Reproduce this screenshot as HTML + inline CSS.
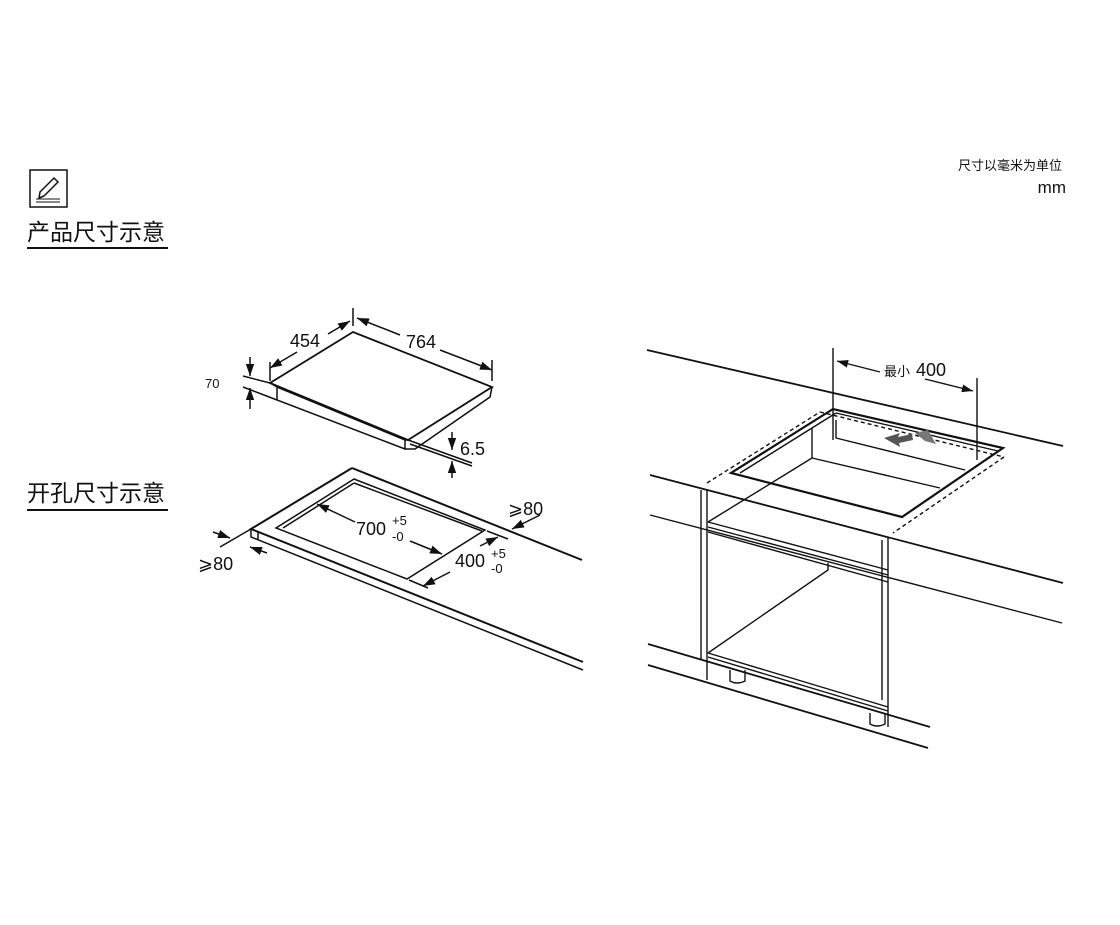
<!DOCTYPE html>
<html><head><meta charset="utf-8"><style>
body{margin:0;background:#fff;width:1120px;height:920px;overflow:hidden}
svg text{font-family:"Liberation Sans","Noto Sans CJK SC",sans-serif;fill:#111}
</style></head><body>
<svg width="1120" height="920" viewBox="0 0 1120 920" xmlns="http://www.w3.org/2000/svg">
<defs>
<marker id="a" viewBox="0 0 10 10" refX="10" refY="5" markerWidth="8" markerHeight="8" orient="auto-start-reverse"><path d="M0,1.5 L10,5 L0,8.5 Z" fill="#111"/></marker>
</defs>
<!-- icon -->
<rect x="30" y="170" width="37" height="37" fill="none" stroke="#111" stroke-width="1.5"/>
<path d="M40,192 L54,178 L58,182 L44,196 L39,198 Z" fill="none" stroke="#111" stroke-width="1.5"/>
<line x1="36" y1="199" x2="60" y2="199" stroke="#111"/><line x1="36" y1="202" x2="60" y2="202" stroke="#111"/>
<text x="27" y="240" font-size="23">产品尺寸示意</text>
<line x1="27" y1="248" x2="168" y2="248" stroke="#111" stroke-width="2"/>
<text x="27" y="501" font-size="23">开孔尺寸示意</text>
<line x1="27" y1="510" x2="168" y2="510" stroke="#111" stroke-width="2"/>
<text x="1062" y="170" font-size="13" text-anchor="end">尺寸以毫米为单位</text>
<text x="1066" y="193" font-size="17" text-anchor="end">mm</text>

<g stroke="#111" fill="none" stroke-width="1.5">
<!-- hob -->
<path d="M353,332 L270,383 L408,440 L492,387 Z" stroke-width="1.8"/>
<path d="M270,383 L277,387 L277,400 L405,449 L405,440 M405,449 L415,449 L490,397 L492,387 M277,387 L405,440 L408,440"/>
<line x1="353" y1="308" x2="353" y2="326"/><line x1="492" y1="360" x2="492" y2="381"/><line x1="270" y1="362" x2="270" y2="381"/>
<line x1="297" y1="352" x2="270" y2="368" marker-end="url(#a)"/><line x1="328" y1="334" x2="350" y2="321" marker-end="url(#a)"/>
<line x1="400" y1="335" x2="357" y2="318" marker-end="url(#a)"/><line x1="440" y1="350" x2="492" y2="370" marker-end="url(#a)"/>
<line x1="243" y1="376" x2="270" y2="383"/><line x1="243" y1="387" x2="277" y2="400"/>
<line x1="250" y1="357" x2="250" y2="376" marker-end="url(#a)"/><line x1="250" y1="409" x2="250" y2="388" marker-end="url(#a)"/>
<line x1="408" y1="440" x2="472" y2="463"/><line x1="410" y1="444" x2="472" y2="466"/>
<line x1="452" y1="432" x2="452" y2="450" marker-end="url(#a)"/><line x1="452" y1="478" x2="452" y2="461" marker-end="url(#a)"/>
<!-- countertop cutout -->
<path d="M352,468 L251,529 L583,662 M352,468 L582,560" stroke-width="2"/>
<path d="M251,529 L251,537 L583,670 M258,532 L258,540"/>
<path d="M354,479 L276,528 L407,579 L485,530 Z M354,483 L283,528 M354,483 L482,531"/>
<line x1="355" y1="522" x2="317" y2="504" marker-end="url(#a)"/><line x1="410" y1="541" x2="442" y2="554" marker-end="url(#a)"/>
<line x1="409" y1="580" x2="428" y2="588"/><line x1="487" y1="531" x2="508" y2="539"/>
<line x1="450" y1="572" x2="423" y2="586" marker-end="url(#a)"/><line x1="480" y1="546" x2="498" y2="537" marker-end="url(#a)"/>
<line x1="540" y1="515" x2="512" y2="529" marker-end="url(#a)"/>
<line x1="213" y1="532" x2="230" y2="538" marker-end="url(#a)"/><line x1="267" y1="553" x2="250" y2="547" marker-end="url(#a)"/>
<line x1="220" y1="547" x2="251" y2="529"/>
</g>
<text x="290" y="347" font-size="18">454</text>
<text x="406" y="348" font-size="18">764</text>
<text x="205" y="388" font-size="13">70</text>
<text x="460" y="455" font-size="18">6.5</text>
<text x="356" y="535" font-size="18">700</text><text x="392" y="525" font-size="13">+5</text><text x="392" y="541" font-size="13">-0</text>
<text x="455" y="567" font-size="18">400</text><text x="491" y="558" font-size="13">+5</text><text x="491" y="573" font-size="13">-0</text>
<text x="508" y="515" font-size="18">⩾80</text>
<text x="198" y="570" font-size="18">⩾80</text>

<!-- right drawing -->
<g stroke="#111" fill="none" stroke-width="1.4">
<line x1="647" y1="350" x2="1063" y2="446" stroke-width="1.8"/>
<line x1="650" y1="475" x2="1063" y2="583" stroke-width="1.8"/>
<line x1="650" y1="515" x2="1062" y2="623"/>
<line x1="648" y1="644" x2="930" y2="727" stroke-width="1.8"/>
<line x1="648" y1="665" x2="928" y2="748" stroke-width="1.8"/>
<path d="M833,409 L731,473 L902,517 L1003,448 Z" stroke-width="2.2"/>
<path d="M836,413 L740,473 M836,413 L998,451"/>
<path d="M707,483 L820,412 M1004,457 L893,533 M820,412 L1004,457" stroke-dasharray="4,3"/>
<path d="M812,428 L812,458 L940,488 M812,458 L708,522 M836,420 L836,438 L965,470"/>
<!-- cabinet -->
<path d="M701,490 L701,660 M707,490 L707,680 M888,537 L888,727 M882,540 L882,700"/>
<path d="M708,522 L888,570 M708,527 L888,575 M708,532 L888,582"/>
<path d="M828,563 L828,570 L708,653 M708,653 L888,707 M708,657 L888,711"/>
<path d="M730,670 L730,681 Q737,685 745,681 L745,670 M870,713 L870,724 Q877,728 885,724 L885,713"/>
<line x1="833" y1="348" x2="833" y2="440"/><line x1="977" y1="378" x2="977" y2="460"/>
<line x1="880" y1="372" x2="837" y2="361" marker-end="url(#a)"/><line x1="925" y1="379" x2="973" y2="391" marker-end="url(#a)"/>
</g>
<path d="M884,438 L900,433 L898,437 L912,434 L913,440 L899,443 L900,447 Z" fill="#555"/>
<path d="M915,433 L928,430 L936,444 L925,441 Z" fill="#777"/>
<text x="884" y="376" font-size="13">最小</text><text x="916" y="376" font-size="18">400</text>
</svg>
</body></html>
